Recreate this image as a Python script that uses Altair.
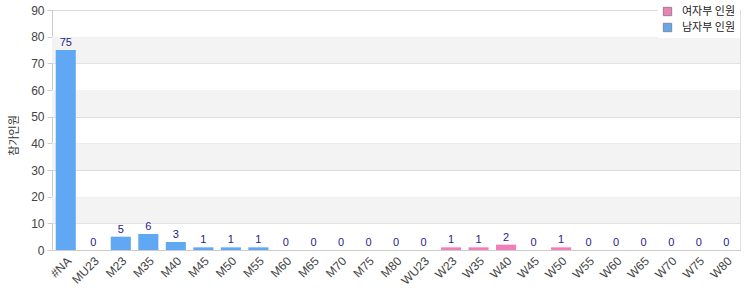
import altair as alt
import pandas as pd

categories = ["#NA", "MU23", "M23", "M35", "M40", "M45", "M50", "M55", "M60", "M65",
              "M70", "M75", "M80", "WU23", "W23", "W35", "W40", "W45", "W50", "W55",
              "W60", "W65", "W70", "W75", "W80"]
counts = [75, 0, 5, 6, 3, 1, 1, 1, 0, 0, 0, 0, 0, 0, 1, 1, 2, 0, 1, 0, 0, 0, 0, 0, 0]
groups = ["남자부 인원"] * 13 + ["여자부 인원"] * 12
series_order = ["여자부 인원", "남자부 인원"]
series_colors = ["#f07fb9", "#61a8f4"]
band_lo = [10, 30, 50, 70]
band_hi = [20, 40, 60, 80]
y_ticks = [0, 10, 20, 30, 40, 50, 60, 70, 80, 90]
y_title = "참가인원"

W, H = 688, 240

df = pd.DataFrame({"cat": categories, "n": counts, "grp": groups})
bands = pd.DataFrame({"lo": band_lo, "hi": band_hi})

yscale = alt.Scale(domain=[0, 90], nice=False)
yaxis = alt.Axis(values=y_ticks, title=y_title, titleFontSize=11,
                 titleFont="Noto Sans CJK KR", titleFontWeight="normal",
                 titleColor="#333", titleX=-38, titleY=125, titleAngle=-90,
                 titleAlign="center", titleBaseline="middle",
                 labelFontSize=12, labelColor="#444", labelFont="Liberation Sans",
                 labelOverlap=False,
                 gridColor="#dcdcdc", domainColor="#ccc", tickColor="#ccc",
                 tickSize=5, labelPadding=3)

band_layer = alt.Chart(bands).mark_rect(color="#f3f3f3").encode(
    x=alt.value(0), x2=alt.value(W),
    y=alt.Y("lo:Q", scale=yscale, axis=yaxis), y2="hi:Q"
)

xenc = alt.X("cat:N", sort=categories, scale=alt.Scale(paddingInner=0.27, paddingOuter=0.135),
             axis=alt.Axis(title=None, labelAngle=-45, labelFontSize=12, labelColor="#444",
                           labelFont="Liberation Sans", ticks=False, domainColor="#ccc",
                           labelPadding=5, labelOverlap=False))

bars = alt.Chart(df).mark_bar().encode(
    x=xenc,
    y=alt.Y("n:Q", scale=yscale, axis=yaxis),
    color=alt.Color("grp:N", scale=alt.Scale(domain=series_order, range=series_colors),
                    legend=alt.Legend(title=None, orient="none", legendX=606, legendY=-8,
                                      symbolType="square", symbolSize=70,
                                      symbolStrokeColor="#888", symbolStrokeWidth=1,
                                      labelFont="Noto Sans CJK KR", labelFontSize=11,
                                      labelColor="#222", fillColor="white",
                                      padding=4, rowPadding=3, labelOffset=9))
)

texts = alt.Chart(df).mark_text(dy=-7, fontSize=11, color="#1f2290", font="Liberation Sans").encode(
    x=alt.X("cat:N", sort=categories),
    y=alt.Y("n:Q", scale=yscale, axis=yaxis),
    text="n:Q"
)

chart = alt.layer(band_layer, bars, texts).resolve_axis(y="shared").properties(
    width=W, height=H,
    autosize=alt.AutoSizeParams(type="none"),
    padding={"left": 52, "top": 10, "right": 10, "bottom": 50},
    background="white"
).configure_view(stroke="#dddddd")

chart.save("out.html", embed_options={"renderer": "svg", "actions": False})
